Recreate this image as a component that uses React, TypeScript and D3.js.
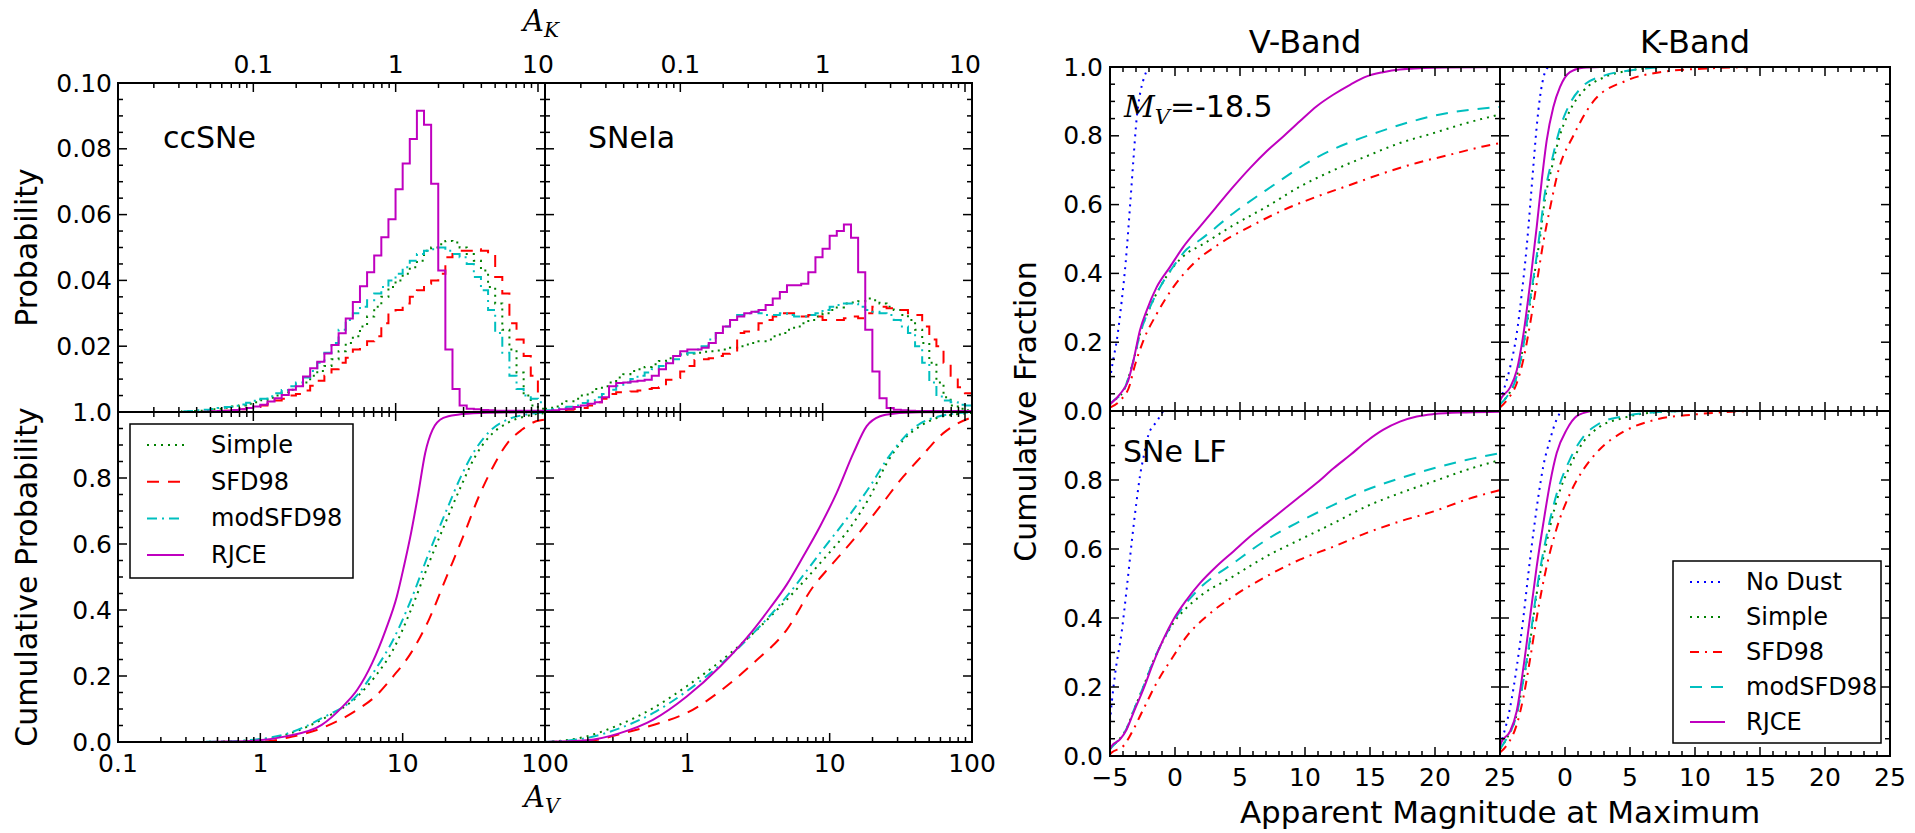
import React from 'react';
import * as d3 from 'd3';

// ---------- Left panel: extinction histograms, bins of 0.05 dex in A_V (0.1 .. 100)
const BIN_LOG_START = -1;
const BIN_LOG_WIDTH = 0.05;
const AK_PER_AV = 0.112;

const ccSimple = [0,0,0,0,0,0,0,0,0,
  0.0002,0.0003,0.0004,0.0006,0.0008,0.001,0.0013,0.0017,0.002,0.0025,0.003,
  0.0036,0.0043,0.005,0.006,0.0068,0.008,0.009,0.011,0.0125,0.014,
  0.016,0.0185,0.021,0.023,0.026,0.029,0.032,0.035,0.038,0.040,
  0.042,0.044,0.046,0.049,0.050,0.051,0.052,0.0515,0.050,0.048,
  0.046,0.043,0.038,0.033,0.025,0.019,0.012,0.005,0.002,0.001];
const ccSFD98 = [0,0,0,0,0,0,0,0,0,0,0,0,
  0.0001,0.0002,0.0003,0.0004,0.0006,0.0008,0.0012,0.0015,
  0.002,0.0025,0.0035,0.004,0.005,0.0055,0.0065,0.008,0.0095,0.011,
  0.013,0.015,0.0165,0.019,0.020,0.0215,0.023,0.027,0.030,0.031,
  0.033,0.035,0.037,0.039,0.040,0.042,0.047,0.048,0.049,0.049,
  0.0495,0.049,0.048,0.041,0.036,0.027,0.022,0.017,0.011,0.005];
const ccModSFD98 = [0,0,0,0,0,0,0,0,0,
  0.0002,0.0003,0.0005,0.0007,0.0009,0.0012,0.0015,0.0019,0.0023,0.0028,0.0034,
  0.004,0.0048,0.0057,0.0067,0.0078,0.009,0.0105,0.0125,0.015,0.018,
  0.021,0.025,0.028,0.030,0.032,0.034,0.036,0.038,0.040,0.042,
  0.044,0.046,0.048,0.049,0.0495,0.050,0.049,0.048,0.047,0.045,
  0.041,0.037,0.031,0.024,0.018,0.011,0.007,0.005,0.004,0.003];
const ccRJCE = [0,0,0,0,0,0,0,0,0,0,0,0,
  0.0001,0.0002,0.0003,0.0004,0.0006,0.0008,0.0012,0.0017,
  0.0022,0.0032,0.0042,0.0052,0.0068,0.0078,0.0108,0.0133,0.0153,0.0178,
  0.0204,0.0239,0.0284,0.0334,0.0382,0.0425,0.0476,0.0531,0.0586,0.0677,
  0.0755,0.083,0.0916,0.0873,0.0694,0.043,0.019,0.007,0.002,0.001,
  0.0008,0.0006,0.0005,0.0004,0.0004,0.0004,0.0004,0.0004,0.0004,0.0004];

const iaSimple = [0.001,0.0017,0.0025,0.0033,0.004,0.005,0.006,0.007,0.0078,0.009,
  0.0105,0.0115,0.0125,0.013,0.0137,0.0145,0.0155,0.0163,0.017,0.0175,
  0.0178,0.018,0.0183,0.0185,0.0187,0.019,0.0195,0.020,0.0205,0.021,
  0.0215,0.022,0.023,0.024,0.025,0.026,0.027,0.028,0.029,0.030,
  0.031,0.0318,0.033,0.0333,0.0337,0.0345,0.034,0.033,0.032,0.031,
  0.0295,0.028,0.025,0.021,0.015,0.009,0.0045,0.002,0.001,0.0005];
const iaSFD98 = [0.0002,0.0003,0.0005,0.0007,0.0009,0.0012,0.002,0.003,0.004,0.0055,
  0.006,0.006,0.0062,0.0065,0.007,0.0073,0.0075,0.0098,0.0103,0.0123,
  0.014,0.0158,0.016,0.0163,0.017,0.0177,0.0183,0.024,0.0245,0.025,
  0.027,0.028,0.029,0.030,0.030,0.029,0.029,0.0295,0.029,0.028,
  0.028,0.028,0.0285,0.029,0.0285,0.030,0.032,0.032,0.0315,0.031,
  0.031,0.030,0.0295,0.026,0.022,0.020,0.015,0.011,0.0075,0.0057];
const iaModSFD98 = [0.0005,0.0008,0.0012,0.0016,0.002,0.0027,0.0035,0.0045,0.0055,0.0068,
  0.008,0.009,0.010,0.011,0.012,0.013,0.014,0.015,0.016,0.0175,
  0.018,0.019,0.020,0.022,0.024,0.026,0.028,0.0295,0.030,0.0305,
  0.030,0.0295,0.0295,0.030,0.0295,0.029,0.029,0.0295,0.030,0.031,
  0.032,0.0325,0.033,0.033,0.032,0.031,0.0305,0.030,0.0295,0.028,
  0.026,0.024,0.020,0.015,0.009,0.0047,0.0035,0.003,0.0022,0.002];
const iaRJCE = [0.0003,0.0005,0.0008,0.001,0.0015,0.002,0.0025,0.003,0.0045,0.0078,
  0.0088,0.009,0.0093,0.0095,0.0098,0.011,0.013,0.0148,0.017,0.0185,
  0.019,0.019,0.0195,0.021,0.024,0.026,0.028,0.029,0.030,0.0305,
  0.031,0.0325,0.0345,0.0365,0.0385,0.0385,0.039,0.0425,0.047,0.0496,
  0.0536,0.055,0.057,0.053,0.0425,0.025,0.0123,0.0042,0.0012,0.0007,
  0.0005,0.0004,0.0003,0.0003,0.0003,0.0003,0.0003,0.0003,0.0003,0.0003];

// cumulative probability: [A_V, fraction]
type Pt = [number, number];
const ccCumSimple: Pt[] = [[0.1,0],[0.3,0],[0.5,0.001],[0.85,0.005],[1.51,0.022],[2.7,0.068],[4.81,0.138],[6.42,0.199],[8.58,0.28],[11.45,0.401],[15.3,0.542],[20.4,0.674],[25.7,0.775],[32.4,0.866],[40.8,0.926],[54.5,0.967],[72.8,0.987],[100,0.997]];
const ccCumSFD98: Pt[] = [[0.1,0],[0.5,0],[1.13,0.002],[1.51,0.012],[2.7,0.042],[4.81,0.098],[6.42,0.138],[8.58,0.199],[11.45,0.27],[15.3,0.371],[20.4,0.502],[27.2,0.633],[34.3,0.744],[43.3,0.835],[54.5,0.906],[68.7,0.946],[86.5,0.972],[100,0.977]];
const ccCumModSFD98: Pt[] = [[0.1,0],[0.3,0],[0.5,0.001],[0.85,0.006],[1.51,0.024],[2.7,0.072],[4.81,0.143],[6.42,0.219],[8.58,0.31],[11.45,0.431],[15.3,0.573],[20.4,0.704],[25.7,0.805],[32.4,0.886],[40.8,0.941],[54.5,0.977],[72.8,0.992],[100,0.999]];
const ccCumRJCE: Pt[] = [[0.1,0],[0.3,0],[0.5,0.001],[0.85,0.003],[1.51,0.017],[2.7,0.052],[3.8,0.108],[4.81,0.159],[6.1,0.239],[7.6,0.34],[9.1,0.441],[10.2,0.532],[11.45,0.633],[12.9,0.755],[14.4,0.876],[16.2,0.946],[19.3,0.982],[24.3,0.992],[35,0.997],[100,1]];

const iaCumSimple: Pt[] = [[0.1,0],[0.196,0.017],[0.336,0.053],[0.577,0.103],[0.99,0.169],[1.7,0.244],[2.91,0.33],[4.99,0.431],[8.57,0.542],[14.7,0.664],[19.2,0.744],[25.2,0.845],[33,0.916],[43.2,0.957],[56.5,0.982],[74.1,0.992],[100,0.997]];
const iaCumSFD98: Pt[] = [[0.1,0],[0.196,0.003],[0.395,0.032],[0.643,0.058],[0.99,0.088],[1.7,0.154],[2.91,0.239],[4.99,0.34],[7.69,0.472],[10.07,0.532],[14.7,0.613],[22.6,0.714],[33,0.805],[43.2,0.861],[62.9,0.936],[97,0.982],[100,0.984]];
const iaCumModSFD98: Pt[] = [[0.1,0],[0.196,0.012],[0.336,0.042],[0.577,0.088],[0.99,0.154],[1.7,0.234],[2.91,0.33],[4.99,0.441],[8.57,0.573],[14.7,0.704],[19.2,0.775],[25.2,0.856],[33,0.921],[43.2,0.965],[56.5,0.985],[74.1,0.995],[100,0.999]];
const iaCumRJCE: Pt[] = [[0.1,0],[0.196,0.005],[0.336,0.027],[0.577,0.068],[0.99,0.138],[1.7,0.229],[2.91,0.34],[3.81,0.406],[4.99,0.477],[6.53,0.563],[8.57,0.654],[11.2,0.755],[14.7,0.876],[18.2,0.957],[22.6,0.987],[28,0.995],[43.2,0.999],[100,1]];

// ---------- Right panel: cumulative fraction vs apparent magnitude: [mag, fraction]
const vTopNoDust: Pt[] = [[-5,0.09],[-4.8,0.14],[-4.5,0.2],[-4.1,0.32],[-3.8,0.43],[-3.45,0.6],[-3.2,0.73],[-2.95,0.85],[-2.7,0.92],[-2.45,0.96],[-2.05,1.0]];
const vTopSimple: Pt[] = [[-5,0.02],[-4.74,0.029],[-3.97,0.058],[-3.2,0.146],[-2.69,0.224],[-1.92,0.302],[-1.15,0.36],[-0.13,0.419],[0.9,0.458],[1.92,0.48],[4.49,0.54],[7.05,0.594],[9.6,0.652],[12.2,0.7],[14.7,0.74],[17.3,0.779],[19.9,0.808],[22.4,0.837],[25,0.862]];
const vTopSFD98: Pt[] = [[-5,0.01],[-4.23,0.03],[-3.46,0.078],[-3.2,0.117],[-2.44,0.204],[-1.41,0.282],[-0.13,0.36],[1.41,0.428],[3.46,0.487],[5.77,0.536],[8.33,0.584],[10.9,0.623],[13.46,0.657],[16,0.691],[18.6,0.721],[21.15,0.745],[23.7,0.769],[25,0.779]];
const vTopModSFD98: Pt[] = [[-5,0.02],[-4.74,0.03],[-3.97,0.058],[-3.2,0.146],[-2.69,0.224],[-1.92,0.302],[-1.15,0.36],[-0.13,0.42],[0.9,0.47],[1.92,0.497],[4.49,0.575],[7.05,0.643],[10.9,0.737],[15.8,0.813],[20.4,0.862],[25,0.884]];
const vTopRJCE: Pt[] = [[-5,0.02],[-4.23,0.049],[-3.6,0.088],[-3.2,0.146],[-2.7,0.234],[-2.18,0.292],[-1.41,0.36],[-0.38,0.419],[0.64,0.477],[1.92,0.536],[3.2,0.594],[4.49,0.652],[5.77,0.706],[7.05,0.755],[8.33,0.798],[9.6,0.842],[10.9,0.886],[12.2,0.92],[13.5,0.949],[14.7,0.972],[16,0.985],[17.3,0.993],[19.9,0.998],[25,1.0]];

const vBotNoDust: Pt[] = [[-5,0.1],[-4.85,0.16],[-4.6,0.24],[-4.1,0.36],[-3.7,0.49],[-3.3,0.63],[-2.95,0.74],[-2.7,0.81],[-2.4,0.87],[-2.05,0.93],[-1.4,0.97],[-0.9,1.0]];
const vBotSimple: Pt[] = [[-5,0.02],[-4.5,0.04],[-3.72,0.08],[-3.2,0.13],[-2.44,0.2],[-1.67,0.275],[-0.9,0.335],[-0.13,0.385],[0.9,0.43],[1.92,0.463],[4.49,0.521],[7.05,0.579],[9.6,0.627],[12.2,0.675],[14.7,0.723],[17.3,0.762],[19.9,0.796],[22.4,0.829],[25,0.858]];
const vBotSFD98: Pt[] = [[-5,0.005],[-4.87,0.01],[-3.97,0.029],[-3.2,0.077],[-2.44,0.135],[-1.41,0.212],[-0.13,0.289],[0.9,0.347],[2.44,0.405],[4.49,0.463],[7.05,0.521],[9.6,0.569],[12.2,0.607],[14.7,0.646],[17.3,0.68],[19.9,0.709],[22.4,0.743],[25,0.771]];
const vBotModSFD98: Pt[] = [[-5,0.02],[-4.5,0.04],[-3.72,0.08],[-3.2,0.13],[-2.44,0.2],[-1.67,0.275],[-0.9,0.336],[-0.13,0.39],[0.9,0.445],[1.92,0.487],[4.49,0.559],[7.05,0.627],[9.6,0.68],[12.2,0.728],[14.7,0.771],[17.3,0.805],[19.9,0.834],[22.4,0.858],[25,0.878]];
const vBotRJCE: Pt[] = [[-5,0.02],[-4.87,0.029],[-4.23,0.048],[-3.72,0.077],[-3.2,0.125],[-2.44,0.193],[-1.67,0.27],[-0.9,0.338],[-0.13,0.395],[0.9,0.453],[1.92,0.501],[3.2,0.55],[4.49,0.593],[5.77,0.636],[7.05,0.675],[8.33,0.714],[9.6,0.752],[10.9,0.791],[12.2,0.834],[13.5,0.873],[14.7,0.911],[16,0.945],[17.3,0.969],[18.6,0.984],[19.9,0.991],[22.4,0.996],[25,0.998]];

const kTopNoDust: Pt[] = [[-5,0.03],[-4.74,0.058],[-4.23,0.126],[-3.72,0.223],[-3.33,0.34],[-2.95,0.476],[-2.69,0.592],[-2.44,0.709],[-2.18,0.825],[-1.92,0.913],[-1.54,0.985],[-1.28,1.0]];
const kTopSimple: Pt[] = [[-5,0.02],[-4.5,0.04],[-3.72,0.1],[-3.2,0.19],[-2.7,0.31],[-2.18,0.44],[-1.9,0.51],[-1.6,0.6],[-1.0,0.71],[-0.4,0.8],[0.4,0.875],[1.4,0.93],[3,0.97],[5,0.99],[7.5,1.0]];
const kTopSFD98: Pt[] = [[-5,0.01],[-4.5,0.03],[-3.72,0.08],[-3.2,0.15],[-2.7,0.25],[-2.18,0.37],[-1.67,0.49],[-1.15,0.59],[-0.5,0.7],[0.64,0.8],[2.18,0.9],[4.7,0.96],[7.3,0.985],[10.5,0.995],[15,1.0]];
const kTopModSFD98: Pt[] = [[-5,0.02],[-4.5,0.04],[-3.72,0.1],[-3.2,0.19],[-2.7,0.32],[-2.18,0.45],[-1.9,0.53],[-1.6,0.62],[-1.0,0.73],[-0.4,0.82],[0.4,0.895],[1.4,0.945],[3,0.975],[5,0.99],[7.5,1.0]];
const kTopRJCE: Pt[] = [[-5,0.03],[-4.87,0.039],[-4.23,0.068],[-3.72,0.117],[-3.2,0.223],[-2.69,0.369],[-2.18,0.534],[-1.79,0.67],[-1.41,0.786],[-0.9,0.883],[-0.38,0.942],[0.38,0.985],[1.41,0.998],[2.7,1.0]];

const kBotNoDust: Pt[] = [[-5,0.03],[-4.74,0.061],[-4.23,0.139],[-3.72,0.256],[-3.2,0.402],[-2.82,0.528],[-2.44,0.645],[-2.05,0.752],[-1.67,0.84],[-1.15,0.917],[-0.64,0.976],[-0.38,0.995]];
const kBotSimple: Pt[] = [[-5,0.02],[-4.5,0.05],[-3.72,0.12],[-3.2,0.22],[-2.69,0.33],[-2.18,0.47],[-1.41,0.62],[-0.64,0.74],[0.38,0.84],[1.41,0.91],[2.7,0.955],[4.5,0.98],[6.5,0.995],[9,1.0]];
const kBotSFD98: Pt[] = [[-5,0.01],[-4.5,0.03],[-3.72,0.09],[-3.2,0.17],[-2.69,0.28],[-2.18,0.4],[-1.41,0.55],[-0.64,0.66],[0.38,0.76],[1.41,0.83],[2.7,0.89],[4.5,0.94],[7,0.975],[10,0.99],[14,1.0]];
const kBotModSFD98: Pt[] = [[-5,0.02],[-4.5,0.05],[-3.72,0.12],[-3.2,0.22],[-2.69,0.34],[-2.18,0.48],[-1.41,0.64],[-0.64,0.76],[0.38,0.86],[1.41,0.925],[2.7,0.965],[4.5,0.985],[6.5,0.995],[9,1.0]];
const kBotRJCE: Pt[] = [[-5,0.03],[-4.87,0.042],[-4.23,0.071],[-3.72,0.129],[-3.2,0.256],[-2.69,0.402],[-2.18,0.548],[-1.67,0.674],[-1.15,0.791],[-0.64,0.878],[0.13,0.946],[0.9,0.985],[1.92,0.999]];

const leftLegend = ['Simple', 'SFD98', 'modSFD98', 'RJCE'];
const rightLegend = ['No Dust', 'Simple', 'SFD98', 'modSFD98', 'RJCE'];

// ---------- styling / layout
const SANS = '"DejaVu Sans", "Liberation Sans", sans-serif';
const SERIF = '"DejaVu Serif", "Liberation Serif", serif';
const COL: Record<string, string> = { 'No Dust': '#0000ff', Simple: '#008000', SFD98: '#ff0000', modSFD98: '#00bfbf', RJCE: '#bf00bf' };
const DOT = '2,5';
const DASH = '12,9';
const DASHDOT_L = '10,5,2,5';
const DASHDOT_R = '9,6,2,6';
const DASH_L: Record<string, string | undefined> = { Simple: DOT, SFD98: DASH, modSFD98: DASHDOT_L, RJCE: undefined };
const DASH_R: Record<string, string | undefined> = { 'No Dust': DOT, Simple: DOT, SFD98: DASHDOT_R, modSFD98: DASH, RJCE: undefined };
const LW = 2;

const L = { x0: 118, xm: 545, x1: 972, y0: 83, ym: 412, y1: 742 };
const R = { x0: 1110, xm: 1500, x1: 1890, y0: 67, ym: 411, y1: 756 };
const MAJ = 9, MIN = 5;
const TICK_FS = 25, LABEL_FS = 30;

const isDecade = (v: number) => Math.abs(Math.log10(v) - Math.round(Math.log10(v))) < 1e-6;
const isMult = (v: number, m: number) => Math.abs(v / m - Math.round(v / m)) < 1e-6;

type Dir = 'up' | 'down' | 'both' | 'left' | 'right';

function hTicks(key: string, scale: any, values: number[], isMajor: (v: number) => boolean, y: number, dir: Dir) {
  return values.map((v, i) => {
    const x = scale(v);
    const len = isMajor(v) ? MAJ : MIN;
    const ya = dir === 'down' ? y : y - len;
    const yb = dir === 'up' ? y : y + len;
    return <line key={`${key}${i}`} x1={x} x2={x} y1={ya} y2={yb} stroke="#000" strokeWidth={1.5} />;
  });
}
function vTicks(key: string, scale: any, values: number[], isMajor: (v: number) => boolean, x: number, dir: Dir) {
  return values.map((v, i) => {
    const y = scale(v);
    const len = isMajor(v) ? MAJ : MIN;
    const xa = dir === 'right' ? x : x - len;
    const xb = dir === 'left' ? x : x + len;
    return <line key={`${key}${i}`} x1={xa} x2={xb} y1={y} y2={y} stroke="#000" strokeWidth={1.5} />;
  });
}

function histPath(vals: number[], xs: any, ys: any) {
  const pts: Pt[] = vals.map((v, i) => [Math.pow(10, BIN_LOG_START + BIN_LOG_WIDTH * i), v]);
  pts.push([Math.pow(10, BIN_LOG_START + BIN_LOG_WIDTH * vals.length), vals[vals.length - 1]]);
  return d3.line<Pt>().x(d => xs(d[0])).y(d => ys(d[1])).curve(d3.curveStepAfter)(pts) || '';
}
function curvePath(pts: Pt[], xs: any, ys: any) {
  return d3.line<Pt>().x(d => xs(d[0])).y(d => ys(d[1])).curve(d3.curveMonotoneX)(pts) || '';
}

export default function App() {
  const avA = d3.scaleLog().domain([0.1, 100]).range([L.x0, L.xm]);
  const avB = d3.scaleLog().domain([0.1, 100]).range([L.xm, L.x1]);
  const akA = d3.scaleLog().domain([0.1 * AK_PER_AV, 100 * AK_PER_AV]).range([L.x0, L.xm]);
  const akB = d3.scaleLog().domain([0.1 * AK_PER_AV, 100 * AK_PER_AV]).range([L.xm, L.x1]);
  const yProb = d3.scaleLinear().domain([0, 0.1]).range([L.ym, L.y0]);
  const yCum = d3.scaleLinear().domain([0, 1]).range([L.y1, L.ym]);
  const mV = d3.scaleLinear().domain([-5, 25]).range([R.x0, R.xm]);
  const mK = d3.scaleLinear().domain([-5, 25]).range([R.xm, R.x1]);
  const yFT = d3.scaleLinear().domain([0, 1]).range([R.ym, R.y0]);
  const yFB = d3.scaleLinear().domain([0, 1]).range([R.y1, R.ym]);

  const avTicks = avA.ticks();
  const akTicks = akA.ticks();
  const probTicks = yProb.ticks(20);
  const cumTicks = yCum.ticks(20);
  const magTicks = mV.ticks(30);
  const fracTicks = yFT.ticks(20);

  const histSets: [string, number[], number[]][] = [
    ['Simple', ccSimple, iaSimple], ['SFD98', ccSFD98, iaSFD98],
    ['modSFD98', ccModSFD98, iaModSFD98], ['RJCE', ccRJCE, iaRJCE]];
  const cumSets: [string, Pt[], Pt[]][] = [
    ['Simple', ccCumSimple, iaCumSimple], ['SFD98', ccCumSFD98, iaCumSFD98],
    ['modSFD98', ccCumModSFD98, iaCumModSFD98], ['RJCE', ccCumRJCE, iaCumRJCE]];
  const magSets: [string, Pt[], Pt[], Pt[], Pt[]][] = [
    ['No Dust', vTopNoDust, kTopNoDust, vBotNoDust, kBotNoDust],
    ['Simple', vTopSimple, kTopSimple, vBotSimple, kBotSimple],
    ['SFD98', vTopSFD98, kTopSFD98, vBotSFD98, kBotSFD98],
    ['modSFD98', vTopModSFD98, kTopModSFD98, vBotModSFD98, kBotModSFD98],
    ['RJCE', vTopRJCE, kTopRJCE, vBotRJCE, kBotRJCE]];

  const fmt2 = d3.format('.2f');
  const fmt1 = d3.format('.1f');
  const fmtG = d3.format('~g');
  const fmtD = d3.format('d');

  const lineProps = (name: string, right: boolean) => ({
    fill: 'none', stroke: COL[name], strokeWidth: LW,
    strokeDasharray: right ? DASH_R[name] : DASH_L[name],
  });

  const clips: [string, number, number, number, number][] = [
    ['cA', L.x0, L.y0, L.xm - L.x0, L.ym - L.y0], ['cB', L.xm, L.y0, L.x1 - L.xm, L.ym - L.y0],
    ['cC', L.x0, L.ym, L.xm - L.x0, L.y1 - L.ym], ['cD', L.xm, L.ym, L.x1 - L.xm, L.y1 - L.ym],
    ['cE', R.x0, R.y0, R.xm - R.x0, R.ym - R.y0], ['cF', R.xm, R.y0, R.x1 - R.xm, R.ym - R.y0],
    ['cG', R.x0, R.ym, R.xm - R.x0, R.y1 - R.ym], ['cH', R.xm, R.ym, R.x1 - R.xm, R.y1 - R.ym]];

  return (
    <svg width={1915} height={833} style={{ position: 'absolute', left: 0, top: 0, background: '#fff' }} fontFamily={SANS}>
      <defs>
        {clips.map(([id, x, y, w, h]) => (
          <clipPath id={id} key={id}><rect x={x} y={y} width={w} height={h} /></clipPath>
        ))}
      </defs>
      <rect x={0} y={0} width={1915} height={833} fill="#fff" />

      {/* ---------- left panel data ---------- */}
      <g clipPath="url(#cA)">
        {histSets.map(([n, cc]) => <path key={n} d={histPath(cc, avA, yProb)} {...lineProps(n, false)} />)}
      </g>
      <g clipPath="url(#cB)">
        {histSets.map(([n, , ia]) => <path key={n} d={histPath(ia, avB, yProb)} {...lineProps(n, false)} />)}
      </g>
      <g clipPath="url(#cC)">
        {cumSets.map(([n, cc]) => <path key={n} d={curvePath(cc, avA, yCum)} {...lineProps(n, false)} />)}
      </g>
      <g clipPath="url(#cD)">
        {cumSets.map(([n, , ia]) => <path key={n} d={curvePath(ia, avB, yCum)} {...lineProps(n, false)} />)}
      </g>

      {/* ---------- right panel data ---------- */}
      <g clipPath="url(#cE)">
        {magSets.map(([n, vt]) => <path key={n} d={curvePath(vt, mV, yFT)} {...lineProps(n, true)} />)}
      </g>
      <g clipPath="url(#cF)">
        {magSets.map(([n, , kt]) => <path key={n} d={curvePath(kt, mK, yFT)} {...lineProps(n, true)} />)}
      </g>
      <g clipPath="url(#cG)">
        {magSets.map(([n, , , vb]) => <path key={n} d={curvePath(vb, mV, yFB)} {...lineProps(n, true)} />)}
      </g>
      <g clipPath="url(#cH)">
        {magSets.map(([n, , , , kb]) => <path key={n} d={curvePath(kb, mK, yFB)} {...lineProps(n, true)} />)}
      </g>

      {/* ---------- left panel axes ---------- */}
      <g>
        {hTicks('akA0', akA, akTicks, isDecade, L.y0, 'down')}
        {hTicks('akB0', akB, akTicks, isDecade, L.y0, 'down')}
        {hTicks('akAm', akA, akTicks, isDecade, L.ym, 'both')}
        {hTicks('akBm', akB, akTicks, isDecade, L.ym, 'both')}
        {hTicks('avA1', avA, avTicks, isDecade, L.y1, 'up')}
        {hTicks('avB1', avB, avTicks, isDecade, L.y1, 'up')}
        {vTicks('pL', yProb, probTicks, v => isMult(v, 0.02), L.x0, 'right')}
        {vTicks('pM', yProb, probTicks, v => isMult(v, 0.02), L.xm, 'both')}
        {vTicks('pR', yProb, probTicks, v => isMult(v, 0.02), L.x1, 'left')}
        {vTicks('cL', yCum, cumTicks, v => isMult(v, 0.2), L.x0, 'right')}
        {vTicks('cM', yCum, cumTicks, v => isMult(v, 0.2), L.xm, 'both')}
        {vTicks('cR', yCum, cumTicks, v => isMult(v, 0.2), L.x1, 'left')}
        <rect x={L.x0} y={L.y0} width={L.x1 - L.x0} height={L.y1 - L.y0} fill="none" stroke="#000" strokeWidth={2} />
        <line x1={L.xm} x2={L.xm} y1={L.y0} y2={L.y1} stroke="#000" strokeWidth={2} />
        <line x1={L.x0} x2={L.x1} y1={L.ym} y2={L.ym} stroke="#000" strokeWidth={2} />
      </g>
      <g fontSize={TICK_FS} fill="#000">
        {yProb.ticks(5).filter(v => v > 0).map(v => (
          <text key={`pl${v}`} x={L.x0 - 6} y={yProb(v)} textAnchor="end" dominantBaseline="central">{fmt2(v)}</text>
        ))}
        {yCum.ticks(5).map(v => (
          <text key={`cl${v}`} x={L.x0 - 6} y={yCum(v)} textAnchor="end" dominantBaseline="central">{fmt1(v)}</text>
        ))}
        {akTicks.filter(isDecade).map(v => (
          <text key={`ka${v}`} x={akA(v)} y={73} textAnchor="middle">{fmtG(v)}</text>
        ))}
        {akTicks.filter(isDecade).map(v => (
          <text key={`kb${v}`} x={akB(v)} y={73} textAnchor="middle">{fmtG(v)}</text>
        ))}
        {avTicks.filter(isDecade).map(v => (
          <text key={`aa${v}`} x={avA(v)} y={772} textAnchor="middle">{fmtG(v)}</text>
        ))}
        {avTicks.filter(v => isDecade(v) && v > 0.1).map(v => (
          <text key={`ab${v}`} x={avB(v)} y={772} textAnchor="middle">{fmtG(v)}</text>
        ))}
      </g>
      <text x={163} y={148} fontSize={LABEL_FS}>ccSNe</text>
      <text x={588} y={148} fontSize={LABEL_FS}>SNeIa</text>
      <text transform={`translate(37,${(L.y0 + L.ym) / 2}) rotate(-90)`} fontSize={LABEL_FS} textAnchor="middle">Probability</text>
      <text transform={`translate(37,${(L.ym + L.y1) / 2}) rotate(-90)`} fontSize={LABEL_FS} textAnchor="middle">Cumulative Probability</text>
      <text x={523} y={31} fontSize={29} fontFamily={SERIF} fontStyle="italic">A<tspan fontSize={20} dy={6}>K</tspan></text>
      <text x={524} y={807} fontSize={29} fontFamily={SERIF} fontStyle="italic">A<tspan fontSize={20} dy={6}>V</tspan></text>

      {/* left legend */}
      <g>
        <rect x={130} y={424} width={223} height={154} fill="#fff" stroke="#000" strokeWidth={1.5} />
        {leftLegend.map((n, i) => {
          const y = 445 + i * 36.7;
          return (
            <g key={n}>
              <line x1={147} x2={184} y1={y} y2={y} {...lineProps(n, false)} />
              <text x={211} y={y} fontSize={24} dominantBaseline="central">{n}</text>
            </g>
          );
        })}
      </g>

      {/* ---------- right panel axes ---------- */}
      <g>
        {[mV, mK].map((s, j) => (
          <g key={`mx${j}`}>
            {hTicks(`t${j}`, s, magTicks, v => isMult(v, 5), R.y0, 'down')}
            {hTicks(`m${j}`, s, magTicks, v => isMult(v, 5), R.ym, 'both')}
            {hTicks(`b${j}`, s, magTicks, v => isMult(v, 5), R.y1, 'up')}
          </g>
        ))}
        {[yFT, yFB].map((s, j) => (
          <g key={`fy${j}`}>
            {vTicks(`l${j}`, s, fracTicks, v => isMult(v, 0.2), R.x0, 'right')}
            {vTicks(`c${j}`, s, fracTicks, v => isMult(v, 0.2), R.xm, 'both')}
            {vTicks(`r${j}`, s, fracTicks, v => isMult(v, 0.2), R.x1, 'left')}
          </g>
        ))}
        <rect x={R.x0} y={R.y0} width={R.x1 - R.x0} height={R.y1 - R.y0} fill="none" stroke="#000" strokeWidth={2} />
        <line x1={R.xm} x2={R.xm} y1={R.y0} y2={R.y1} stroke="#000" strokeWidth={2} />
        <line x1={R.x0} x2={R.x1} y1={R.ym} y2={R.ym} stroke="#000" strokeWidth={2} />
      </g>
      <g fontSize={TICK_FS} fill="#000">
        {yFT.ticks(5).map(v => (
          <text key={`ft${v}`} x={R.x0 - 7} y={yFT(v)} textAnchor="end" dominantBaseline="central">{fmt1(v)}</text>
        ))}
        {yFB.ticks(5).filter(v => v < 1).map(v => (
          <text key={`fb${v}`} x={R.x0 - 7} y={yFB(v)} textAnchor="end" dominantBaseline="central">{fmt1(v)}</text>
        ))}
        {mV.ticks(6).map(v => (
          <text key={`mv${v}`} x={mV(v)} y={786} textAnchor="middle">{fmtD(v)}</text>
        ))}
        {mK.ticks(6).filter(v => v > -5).map(v => (
          <text key={`mk${v}`} x={mK(v)} y={786} textAnchor="middle">{fmtD(v)}</text>
        ))}
      </g>
      <text x={(R.x0 + R.xm) / 2} y={53} fontSize={32} textAnchor="middle">V-Band</text>
      <text x={(R.xm + R.x1) / 2} y={53} fontSize={32} textAnchor="middle">K-Band</text>
      <text x={1124} y={117} fontSize={LABEL_FS}>
        <tspan fontFamily={SERIF} fontStyle="italic">M</tspan>
        <tspan fontFamily={SERIF} fontStyle="italic" fontSize={21} dy={7}>V</tspan>
        <tspan fontFamily={SERIF} dy={-7}>=</tspan>
        <tspan>-18.5</tspan>
      </text>
      <text x={1123} y={462} fontSize={LABEL_FS}>SNe LF</text>
      <text transform={`translate(1036,${(R.y0 + R.y1) / 2}) rotate(-90)`} fontSize={LABEL_FS} textAnchor="middle">Cumulative Fraction</text>
      <text x={R.xm} y={823} fontSize={31} textAnchor="middle">Apparent Magnitude at Maximum</text>

      {/* right legend */}
      <g>
        <rect x={1673} y={561} width={208} height={182} fill="#fff" stroke="#000" strokeWidth={1.5} />
        {rightLegend.map((n, i) => {
          const y = 582 + i * 35;
          return (
            <g key={n}>
              <line x1={1690} x2={1725} y1={y} y2={y} {...lineProps(n, true)} />
              <text x={1746} y={y} fontSize={24} dominantBaseline="central">{n}</text>
            </g>
          );
        })}
      </g>
    </svg>
  );
}
